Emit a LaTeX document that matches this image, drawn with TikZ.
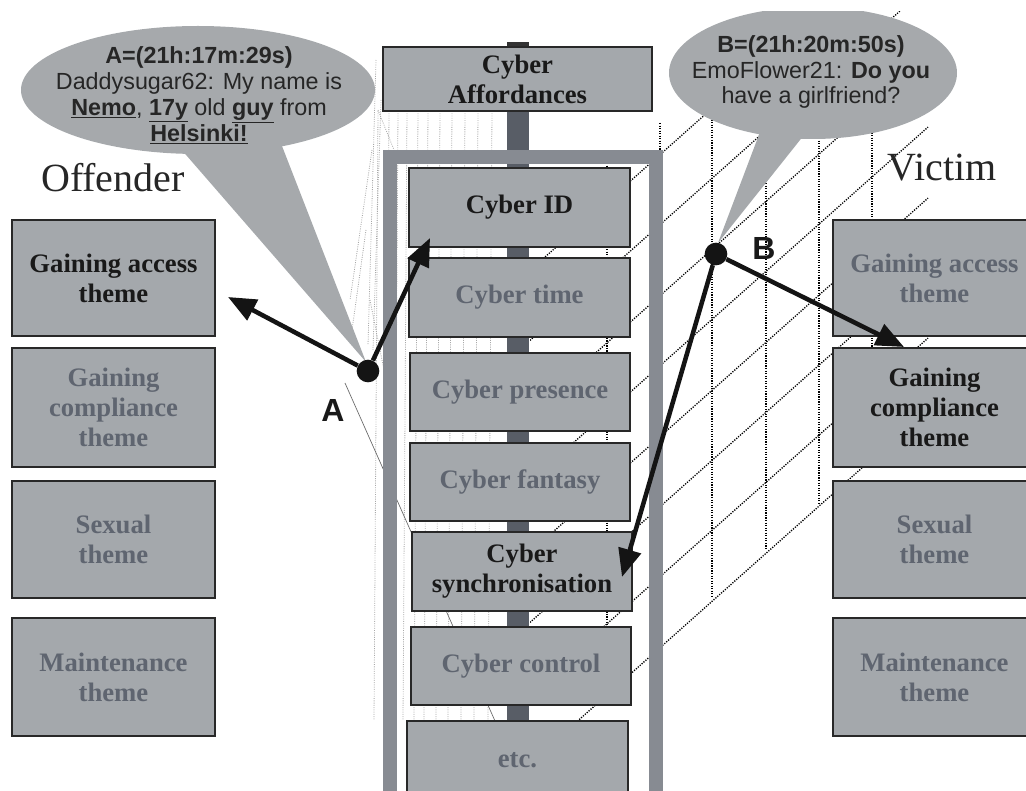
\documentclass[tikz,border=0pt]{standalone}
\usepackage{fontspec}
\setmainfont{Liberation Serif}
\newfontfamily\arialfont{Liberation Sans}
\usetikzlibrary{arrows.meta}

\definecolor{boxfill}{RGB}{164,168,172}
\definecolor{boxline}{RGB}{40,40,40}
\definecolor{framegray}{RGB}{135,139,146}
\definecolor{spinegray}{RGB}{88,93,102}
\definecolor{fadetext}{RGB}{95,101,112}
\definecolor{darktext}{RGB}{25,25,25}
\definecolor{bubblegray}{RGB}{166,169,172}
\definecolor{ghost}{RGB}{168,168,168}

\begin{document}
\begin{tikzpicture}[x=0.75pt,y=-0.75pt,
  sz/.style 2 args={minimum width={#1*0.75pt}, minimum height={#2*0.75pt}},
  box/.style={draw=boxline, line width=1.5pt, fill=boxfill, inner sep=0pt,
    align=center, font=\bfseries\fontsize{20}{22.5}\selectfont},
  on/.style={text=darktext},
  off/.style={text=fadetext},
  gridline/.style={line width=1pt, dash pattern=on 0.9pt off 1pt, black},
  ghostline/.style={line width=0.6pt, dash pattern=on 0.7pt off 1pt, ghost},
  link/.style={line width=3.4pt, -{Triangle[length=21pt,width=17pt]}, black!92},
  dot/.style={circle, fill=black!92, minimum size=17pt, inner sep=0pt},
  bubble/.style={fill=bubblegray},
  bubtext/.style={align=center, text=black!85},
  sidelabel/.style={font=\fontsize{30}{34}\selectfont, text=black!85},
  pointlabel/.style={font=\arialfont\bfseries\fontsize{24}{24}\selectfont, text=black!90}
]
\useasboundingbox (0,0) rectangle (1026,791);
\clip (0,12) rectangle (1026,791);

% faint traces on the offender side of the column
\foreach \x in {378,389,398,407,418,428,440,452,465,478,492}
  \draw[ghostline] (\x,111) -- ({\x-4},720);
\draw[ghostline] (376,60) -- (368,345);
\draw[ghostline] (381,100) -- (373,350);
\draw[ghostline] (372,150) -- (350,300);
\draw[ghostline] (366,230) -- (352,330);
\draw[ghostline] (378,110) -- (398,160);
\draw[ghostline] (370,300) -- (386,380);
\draw[black!60, line width=0.5pt] (345,383) -- (495,721);

% perspective grid on the victim side
\begin{scope}
  \clip (530,791) -- (530,150) -- (655,150) -- (655,0) -- (1026,0) -- (1026,791) -- cycle;
  \foreach \c in {152,222,293,363,434,504,574,645}
    \draw[gridline] (530,{\c+118.4}) -- (928,{\c-235.9});
  \draw[gridline] (607,163) -- (607,695);
  \draw[gridline] (660,123) -- (660,645);
  \draw[gridline] (712,117) -- (712,598);
  \draw[gridline] (766,178) -- (766,550);
  \draw[gridline] (819,138) -- (819,503);
  \draw[gridline] (872,130) -- (872,455);
\end{scope}

% central spine and frame
\fill[spinegray] (507,43) rectangle (529,791);
\fill[black!80] (507,42) rectangle (529,47);
\draw[framegray, line width=10.5pt] (390,800) -- (390,157) -- (656,157) -- (656,800);

% cyber affordances column
\node[box,on,sz={269}{64}] (aff) at (517.5,79) {Cyber\\Affordances};
\node[box,on,sz={221}{79}] (cid) at (519.5,207.5) {Cyber ID};
\node[box,off,sz={221}{79}] (ctime) at (519.5,297.5) {Cyber time};
\node[box,off,sz={220}{78}] (cpres) at (520,392) {Cyber presence};
\node[box,off,sz={220}{78}] (cfant) at (520,482) {Cyber fantasy};
\node[box,on,sz={220}{79}] (csync) at (522,571.5) {Cyber\\synchronisation};
\node[box,off,sz={220}{78}] (cctrl) at (521,666) {Cyber control};
\node[box,off,sz={221}{79}] (cetc) at (517.5,760.5) {etc.};

% offender themes
\node[box,on,sz={203}{116}] (oaccess) at (113.5,278) {Gaining access\\theme};
\node[box,off,sz={203}{119}] (ocomp) at (113.5,407.5) {Gaining\\compliance\\theme};
\node[box,off,sz={203}{117}] (osex) at (113.5,539.5) {Sexual\\theme};
\node[box,off,sz={203}{118}] (omaint) at (113.5,677) {Maintenance\\theme};

% victim themes
\node[box,off,sz={203}{116}] (vaccess) at (934.5,278) {Gaining access\\theme};
\node[box,on,sz={203}{119}] (vcomp) at (934.5,407.5) {Gaining\\compliance\\theme};
\node[box,off,sz={203}{117}] (vsex) at (934.5,539.5) {Sexual\\theme};
\node[box,off,sz={203}{118}] (vmaint) at (934.5,677) {Maintenance\\theme};

% side headings
\node[sidelabel] (offlabel) at (113,178) {Offender};
\node[sidelabel] (viclabel) at (942,168) {Victim};

% chat bubbles
\fill[bubble] (198,90) ellipse [x radius=177, y radius=64];
\fill[bubble] (180,148) -- (366,362) -- (282,146) -- cycle;
\fill[bubble] (813,73) ellipse [x radius=144, y radius=66];
\fill[bubble] (760,132) -- (718,243) -- (808,130) -- cycle;

\node[bubtext, font=\arialfont\fontsize{17.5}{19.5}\selectfont] (txtA) at (199,95)
  {\textbf{A=(21h:17m:29s)}\\Daddysugar62: My name is\\
   \underline{\textbf{Nemo}}, \underline{\textbf{17y}} old \underline{\textbf{guy}} from\\
   \underline{\textbf{Helsinki!}}};
\node[bubtext, font=\arialfont\fontsize{17.5}{18.8}\selectfont] (txtB) at (811,72)
  {\textbf{B=(21h:20m:50s)}\\EmoFlower21: \textbf{Do you}\\have a girlfriend?};

% moments A and B with their links
\coordinate (tipOaccess) at (228,297);
\coordinate (tipCid) at (430,238);
\coordinate (tipCsync) at (622,577);
\coordinate (tipVcomp) at (904,347);

\node[dot] (dotA) at (368,371) {};
\node[dot] (dotB) at (716,254) {};
\draw[link] (dotA) -- (tipOaccess);
\draw[link] (dotA) -- (tipCid);
\draw[link] (dotB) -- (tipCsync);
\draw[link] (dotB) -- (tipVcomp);

\node[pointlabel] (labA) at (333,410) {A};
\node[pointlabel] (labB) at (764,248) {B};
\end{tikzpicture}
\end{document}
